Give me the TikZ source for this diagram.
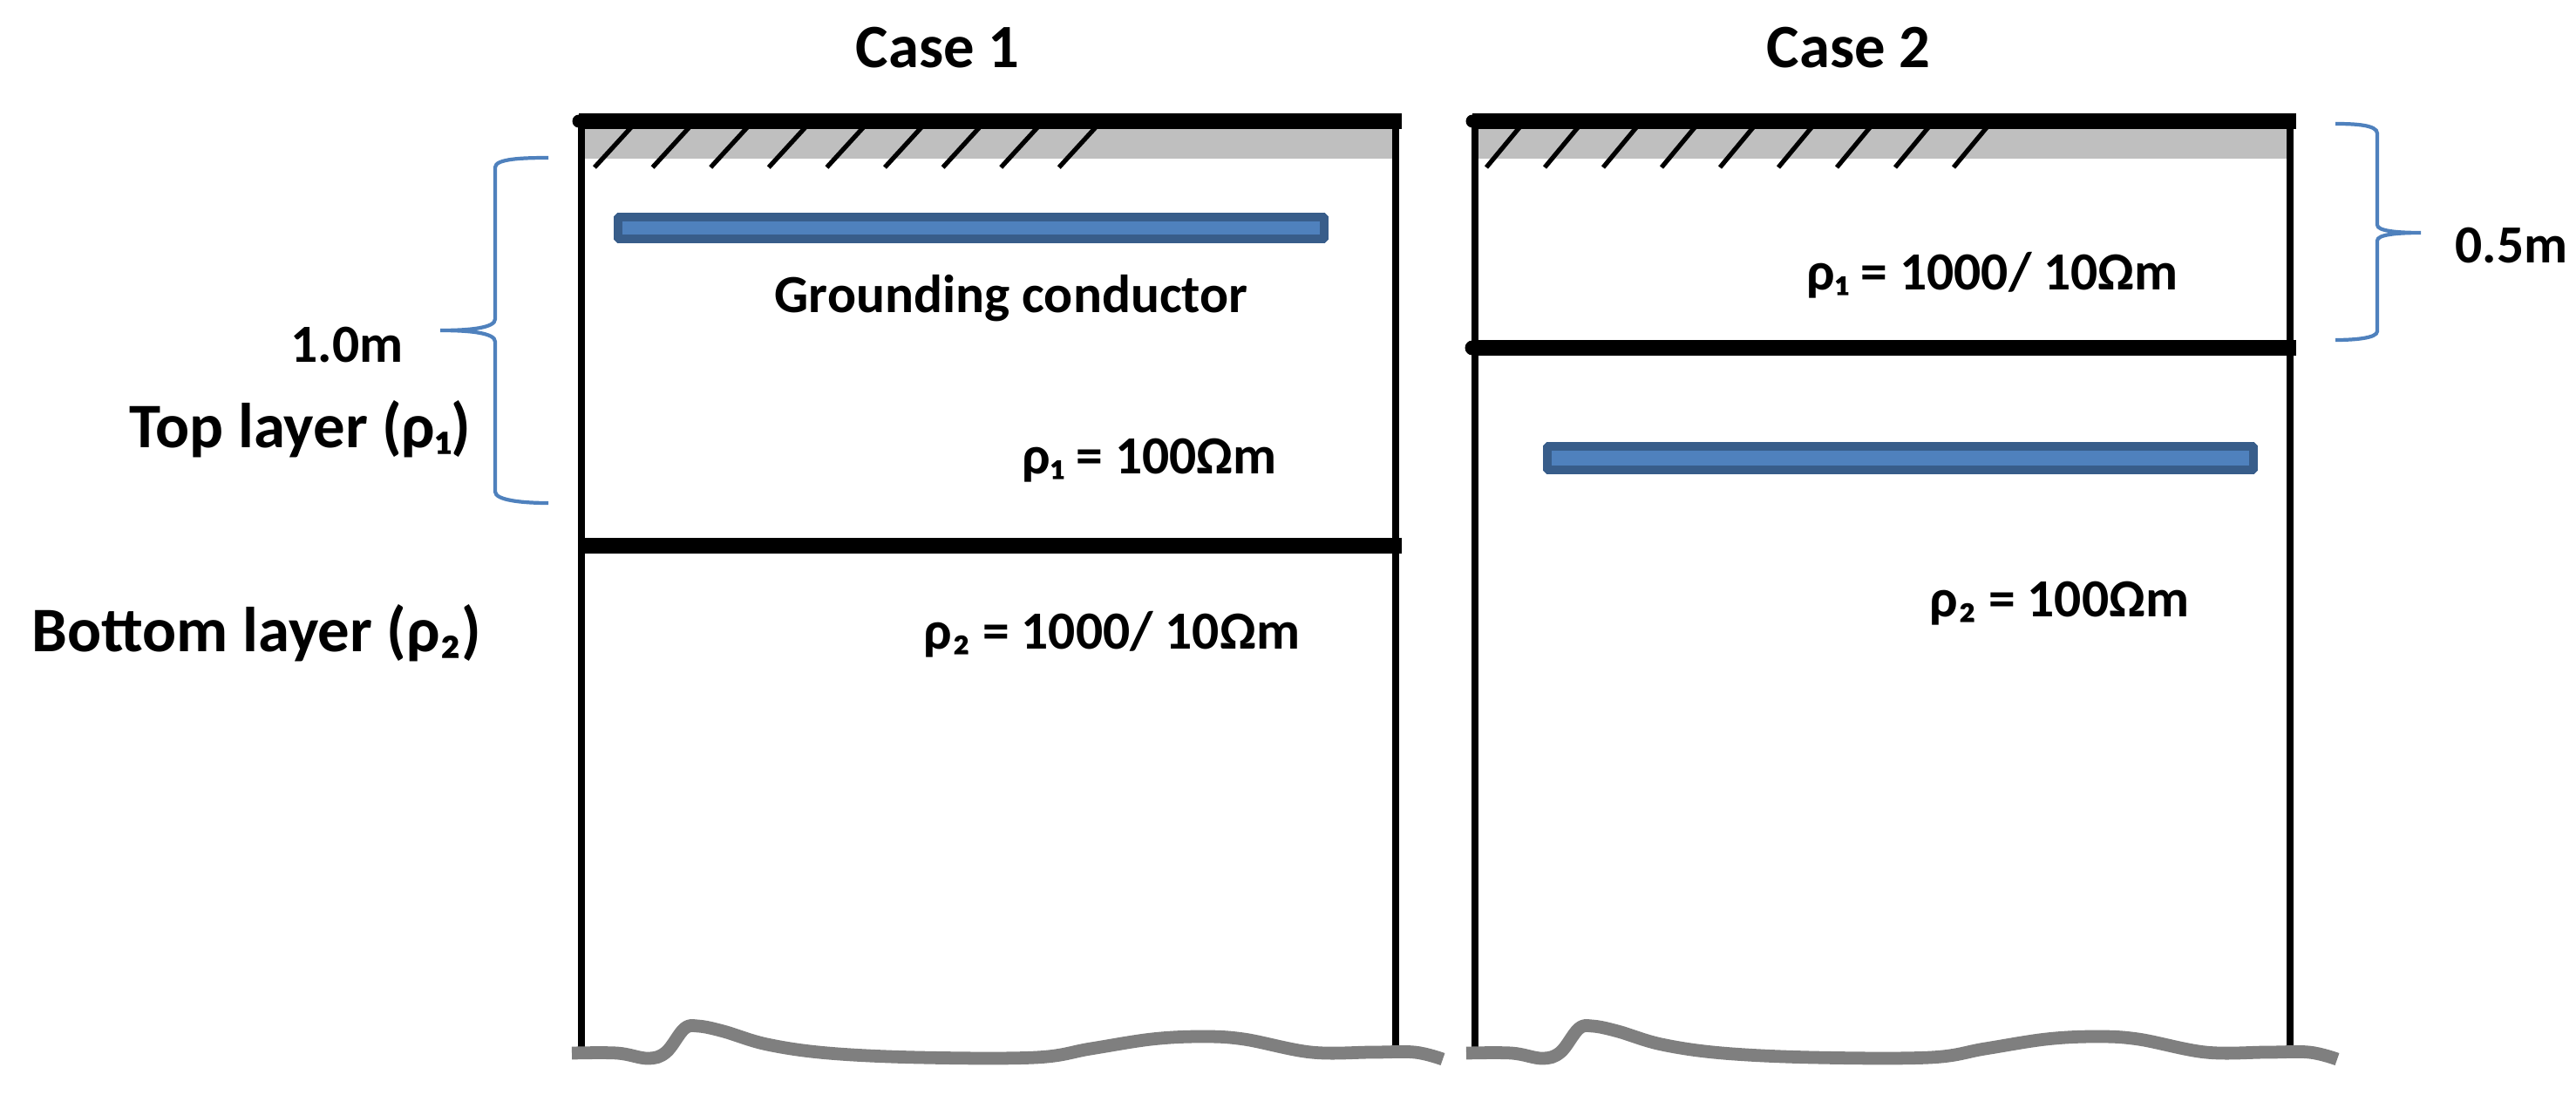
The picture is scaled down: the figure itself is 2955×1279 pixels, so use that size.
\documentclass[tikz,border=0pt]{standalone}
\usepackage{fontspec}
\setmainfont{Carlito}
\definecolor{soilgray}{HTML}{BFBFBF}
\definecolor{roughgray}{HTML}{7F7F7F}
\definecolor{condfill}{HTML}{4F81BD}
\definecolor{condedge}{HTML}{385D8A}
\tikzset{
  wall/.style = {line width = 2.3pt},
  layerbar/.style = {line width = 5pt},
  hatchline/.style = {line width = 1.5pt},
  rough/.style = {roughgray, line width = 4.2pt, line join = round},
  conductor/.style = {draw = condedge, fill = condfill, line width = 2.8pt, rounded corners = 0.4pt},
  spanbrace/.style = {condfill, line width = 1.2pt},
  casetext/.style = {anchor = base west, inner sep = 0pt, font = \fontsize{20.1pt}{24pt}\selectfont\bfseries},
  bigtext/.style = {anchor = base west, inner sep = 0pt, font = \fontsize{20.7pt}{25pt}\selectfont\bfseries},
  smalltext/.style = {anchor = base west, inner sep = 0pt, font = \fontsize{17.5pt}{21pt}\selectfont\bfseries}
}
\begin{document}
\begin{tikzpicture}[x = 0.01cm, y = -0.01cm]
\useasboundingbox (0,0) rectangle (2955,1279);

% case 1
\fill[soilgray] (667,146) rectangle (1601,182);
\foreach \i in {0,...,8}
  \draw[hatchline] ({725+66.6*\i},145) -- ({682+66.6*\i},192);
\draw[wall] (667,139) -- (667,1206);
\draw[wall] (1601,139) -- (1601,1210);
\draw[layerbar] (664,139) -- (1608,139);
\fill (664,139) circle (7.5);
\draw[layerbar] (664,626) -- (1608,626);
\draw[conductor] (709,249) rectangle (1519,274);
\draw[rough] plot[smooth, tension = 0.6] coordinates {(656,1208) (708,1208) (743,1214) (764,1207) (785,1180) (801,1177) (830,1183) (880,1198) (950,1208) (1055,1213) (1188,1213) (1251,1203) (1321,1192) (1378,1189) (1427,1192) (1504,1207) (1574,1207) (1623,1207) (1655,1215)};

% case 2
\fill[soilgray] (1692,146) rectangle (2627,182);
\foreach \i in {0,...,8}
  \draw[hatchline] ({1744+67*\i},145) -- ({1705+67*\i},192);
\draw[wall] (1692,139) -- (1692,1206);
\draw[wall] (2627,139) -- (2627,1210);
\draw[layerbar] (1689,139) -- (2634,139);
\fill (1689,139) circle (7.5);
\draw[layerbar] (1689,399) -- (2634,399);
\fill (1689,399) circle (8.5);
\draw[conductor] (1775,512) rectangle (2585,539);
\draw[rough] plot[smooth, tension = 0.6] coordinates {(1682,1208) (1734,1208) (1769,1214) (1790,1207) (1811,1180) (1827,1177) (1856,1183) (1906,1198) (1976,1208) (2081,1213) (2214,1213) (2277,1203) (2347,1192) (2404,1189) (2453,1192) (2530,1207) (2600,1207) (2649,1207) (2681,1215)};

% braces
\draw[spanbrace] (629,181) .. controls (600,181) and (568,182) .. (568,192) -- (568,366) .. controls (568,376) and (540,379) .. (505,379) .. controls (540,379) and (568,382) .. (568,392) -- (568,564) .. controls (568,574) and (600,577) .. (629,577);
\draw[spanbrace] (2679,142) .. controls (2700,142) and (2727,143) .. (2727,153) -- (2727,258) .. controls (2727,265) and (2750,267) .. (2777,267) .. controls (2750,267) and (2727,269) .. (2727,276) -- (2727,380) .. controls (2727,388) and (2700,390) .. (2679,390);

% labels
\node[casetext] (caseA) at (981,78) {Case 1};
\node[casetext] (caseB) at (2026,78) {Case 2};
\node[smalltext] (condlabel) at (888,358) {Grounding conductor};
\node[smalltext] (depthA) at (333,415) {1.0m};
\node[smalltext] (depthB) at (2816,301) {0.5m};
\node[bigtext] (toplabel) at (148,513) {Top layer (ρ₁)};
\node[bigtext] (bottomlabel) at (36,747) {Bottom layer (ρ₂)};
\node[smalltext] (rhoAtop) at (1172,543) {ρ₁ = 100Ωm};
\node[smalltext] (rhoAbot) at (1059,744) {ρ₂ = 1000/ 10Ωm};
\node[smalltext] (rhoBtop) at (2072,332) {ρ₁ = 1000/ 10Ωm};
\node[smalltext] (rhoBbot) at (2213,707) {ρ₂ = 100Ωm};
\end{tikzpicture}
\end{document}
